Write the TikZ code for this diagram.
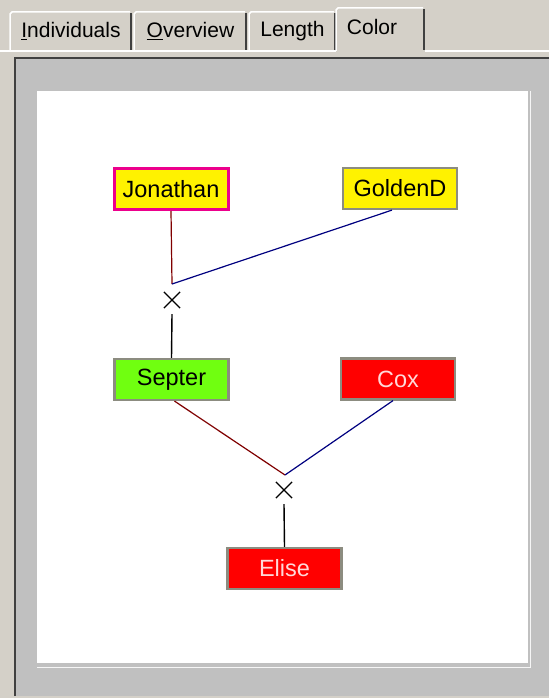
\documentclass[tikz,border=0pt]{standalone}
\usepackage{fontspec}
\setmainfont{Liberation Sans}
\usetikzlibrary{shapes.misc}
\definecolor{winface}{HTML}{D4D0C8}
\definecolor{panelgray}{HTML}{C0C0C0}
\definecolor{darkedge}{HTML}{404040}
\definecolor{boxgray}{HTML}{8C8C80}
\definecolor{lime}{HTML}{70FF10}
\definecolor{momline}{HTML}{800000}
\definecolor{dadline}{HTML}{000080}
\definecolor{paletext}{HTML}{FFD8D8}

\begin{document}
\begin{tikzpicture}[x=1pt,y=-1pt,
    person/.style={draw=boxgray, line width=2.2pt, minimum width=114pt,
      minimum height=41pt, inner sep=0pt, font=\fontsize{23.5}{24}\selectfont},
    mating/.style={cross out, draw, line width=1.2pt, minimum size=15pt, inner sep=0pt},
    tablabel/.style={font=\fontsize{21}{22}\selectfont, inner sep=0pt},
    mom/.style={draw=momline, line width=1.2pt},
    dad/.style={draw=dadline, line width=1.2pt},
    child/.style={draw=black, line width=1.4pt}]
    \useasboundingbox (0,0) rectangle (549,698);
    \fill[winface] (0,0) rectangle (549,698);

    % tab strip
    \foreach \a/\b in {10/132, 134/247, 249/336}{%
      \draw[white, line width=1.5pt] (\a,51) -- (\a,14) -- (\a+2,12) -- (\b-2,12);
      \draw[darkedge, line width=1.5pt] (\b-1,13) -- (\b-1,51);
    }
    \draw[white, line width=1.5pt] (0,51) -- (336,51) (425,51) -- (549,51);
    \draw[white, line width=1.5pt] (336,51) -- (336,10) -- (338,8) -- (423,8);
    \draw[darkedge, line width=2pt] (424,9) -- (424,50);
    \node[tablabel] (tInd) at (71,31) {\underline{I}ndividuals};
    \node[tablabel] (tOve) at (190.5,31) {\underline{O}verview};
    \node[tablabel] (tLen) at (292.5,31) {Length};
    \node[tablabel] (tCol) at (372,27) {Color};

    % panel
    \fill[panelgray] (14,57) rectangle (549,696);
    \draw[darkedge, line width=2.5pt] (15,696) -- (15,58) -- (549,58);
    \draw[white!85!panelgray, line width=1pt] (530,91) -- (530,667) -- (37,667);
    \fill[white] (37,91) rectangle (528,663);

    % pedigree
    \node[person, fill=yellow, draw=magenta, line width=3pt] (Jonathan) at (171,189) {Jonathan};
    \node[person, fill=yellow] (GoldenD) at (400,188.5) {GoldenD};
    \node[person, fill=lime] (Septer) at (171.5,379.5) {Septer};
    \node[person, fill=red, text=paletext] (Cox) at (398,379) {Cox};
    \node[person, fill=red, text=paletext] (Elise) at (284.5,568.5) {Elise};

    \node[mating] (crossA) at (172,300) {};
    \node[mating] (crossB) at (284,490) {};
    \coordinate (joinA) at (172,284);
    \coordinate (joinB) at (285,475);

    \draw[mom] (Jonathan.south) -- (joinA);
    \draw[dad] ([xshift=-8pt]GoldenD.south) -- (joinA);
    \draw[child] ([yshift=-6pt]crossA.south) -- (Septer.north);
    \draw[mom] ([xshift=3pt]Septer.south) -- (joinB);
    \draw[dad] ([xshift=-5pt]Cox.south) -- (joinB);
    \draw[child] ([yshift=-6pt]crossB.south) -- (Elise.north);
\end{tikzpicture}
\end{document}
